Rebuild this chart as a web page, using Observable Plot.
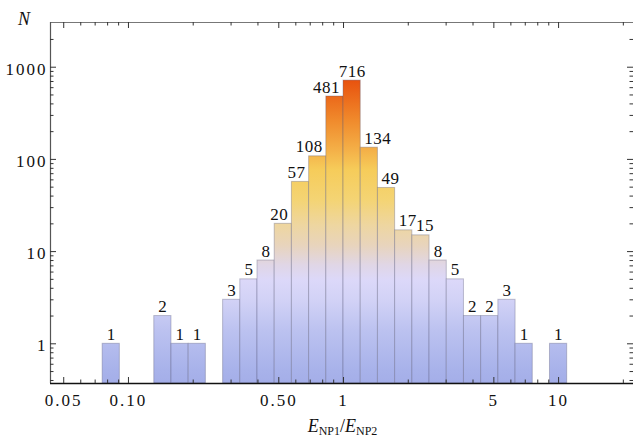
<!DOCTYPE html>
<html><head><meta charset="utf-8">
<script src="https://cdn.jsdelivr.net/npm/d3@7"></script>
<script src="https://cdn.jsdelivr.net/npm/@observablehq/plot@0.6"></script>
<style>
html,body{margin:0;padding:0;background:#fff}
#chart svg{display:block}
#chart svg text{font-family:"Liberation Serif","Times New Roman",serif !important}
</style>
</head><body><div id="chart"></div>
<script>
// ---- data ----
const logBinWidth = 0.08; // bin width in log10 units
const binIndex = [-14, -11, -10, -9, -7, -6, -5, -4, -3, -2, -1, 0, 1, 2, 3, 4, 5, 6, 7, 8, 9, 10, 12];
const counts   = [1, 2, 1, 1, 3, 5, 8, 20, 57, 108, 481, 716, 134, 49, 17, 15, 8, 5, 2, 2, 3, 1, 1];
const xTickValues = [0.05, 0.1, 0.5, 1, 5, 10];
const xTickLabels = ["0.05", "0.10", "0.50", "1", "5", "10"];
const xMinorTicks = [0.06, 0.07, 0.08, 0.09, 0.2, 0.3, 0.4, 0.6, 0.7, 0.8, 0.9, 2, 3, 4, 6, 7, 8, 9, 20];
const yTickValues = [1, 10, 100, 1000];
const yTickLabels = ["1", "10", "100", "1000"];
const yMinorTicks = [0.4, 0.5, 0.6, 0.7, 0.8, 0.9, 2, 3, 4, 5, 6, 7, 8, 9, 20, 30, 40, 50, 60, 70, 80, 90,
                     200, 300, 400, 500, 600, 700, 800, 900, 2000];
const xDomain = [0.0434, 22.3];
const yDomain = [0.371, 3054];
// colour gradient stops (count level -> colour)
const gradLevels = [0.371, 0.513, 1.39, 2.95, 4.86, 7.07, 11.6, 19.2, 35.8, 76, 125, 263, 716];
const gradColors = ["#a4aee8", "#a8b2ea", "#bcc2f0", "#d2d2f6", "#dcd8f9", "#e0d6e6", "#e8d4bc", "#eed6a0",
                    "#f4d474", "#f6cc5a", "#f4b048", "#f08a2c", "#e8520e"];

// ---- layout ----
const W = 633, H = 438, mL = 50, mR = 0, mT = 22, mB = 55;
const FONT = "Liberation Serif";

const bins = binIndex.map((k, i) => ({
  k, n: counts[i],
  x1: Math.pow(10, k * logBinWidth),
  x2: Math.pow(10, (k + 1) * logBinWidth),
  xc: Math.pow(10, (k + 0.5) * logBinWidth)
}));

// label nudging away from a taller neighbouring bar
const pxPerDecade = (W - mL - mR) / Math.log10(xDomain[1] / xDomain[0]);
const barPx = logBinWidth * pxPerDecade;
bins.forEach((b, i) => {
  const digits = String(b.n).length;
  const tw = digits * 8.5 + (digits - 1) * 0.5;
  const need = Math.max(0, tw / 2 - barPx / 2 + 4);
  const prev = bins[i - 1], next = bins[i + 1];
  const leftTaller = prev && prev.k === b.k - 1 && prev.n > b.n;
  const rightTaller = next && next.k === b.k + 1 && next.n > b.n;
  let dx = 0;
  if (rightTaller && !leftTaller) dx = -need;
  else if (leftTaller && !rightTaller) dx = need;
  b.dx = Math.round(dx * 2) / 2;
});
const labelGroups = d3.groups(bins, d => d.dx);

const tickStroke = "#333";
const marks = [
  Plot.rectY(bins, {x1: "x1", x2: "x2", y1: yDomain[0], y2: "n", fill: "url(#barGrad)",
    stroke: "#5a5a78", strokeOpacity: 0.35, strokeWidth: 1}),
  ...labelGroups.map(([dx, g]) => Plot.text(g, {x: "xc", y: "n", text: d => String(d.n),
    lineAnchor: "bottom", dy: -4, dx, fontSize: 17, fontFamily: FONT, fill: "#111"})),
  // frame
  Plot.ruleY([yDomain[1]], {stroke: "#777", strokeWidth: 1}),
  Plot.ruleX([xDomain[0]], {stroke: "#555", strokeWidth: 1.2}),
  Plot.ruleY([yDomain[0]], {stroke: "#111", strokeWidth: 1.3}),
  // x ticks bottom and top (inward)
  Plot.ruleX(xTickValues, {x: d => d, y1: yDomain[0], y2: yDomain[0], insetTop: -6, stroke: tickStroke}),
  Plot.ruleX(xMinorTicks, {x: d => d, y1: yDomain[0], y2: yDomain[0], insetTop: -3.5, stroke: tickStroke}),
  Plot.ruleX(xTickValues, {x: d => d, y1: yDomain[1], y2: yDomain[1], insetBottom: -6, stroke: tickStroke}),
  Plot.ruleX(xMinorTicks, {x: d => d, y1: yDomain[1], y2: yDomain[1], insetBottom: -3.5, stroke: tickStroke}),
  // y ticks left and right (inward)
  Plot.ruleY(yTickValues, {y: d => d, x1: xDomain[0], x2: xDomain[0], insetRight: -6, stroke: tickStroke}),
  Plot.ruleY(yMinorTicks, {y: d => d, x1: xDomain[0], x2: xDomain[0], insetRight: -3.5, stroke: tickStroke}),
  Plot.ruleY(yTickValues, {y: d => d, x1: xDomain[1], x2: xDomain[1], insetLeft: -6, stroke: tickStroke}),
  Plot.ruleY(yMinorTicks, {y: d => d, x1: xDomain[1], x2: xDomain[1], insetLeft: -3.5, stroke: tickStroke}),
  // tick labels
  Plot.text(xTickValues, {x: d => d, y: yDomain[0], text: (d, i) => xTickLabels[i], lineAnchor: "top",
    dy: 10, fontSize: 17, fontFamily: FONT, fill: "#111"}),
  Plot.text(yTickValues, {y: d => d, x: xDomain[0], text: (d, i) => yTickLabels[i], textAnchor: "end",
    dx: -3, dy: 2, fontSize: 17, fontFamily: FONT, fill: "#111"})
];

const plot = Plot.plot({
  width: W, height: H,
  marginLeft: mL, marginRight: mR, marginTop: mT, marginBottom: mB,
  style: {fontFamily: FONT, fontSize: "17px", background: "#fff", color: "#111", overflow: "visible"},
  x: {type: "log", domain: xDomain, axis: null},
  y: {type: "log", domain: yDomain, axis: null},
  marks
});

// gradient definition (in plot pixel space via the y scale)
const ys = plot.scale("y");
const yB = ys.apply(gradLevels[0]);
const yT = ys.apply(gradLevels[gradLevels.length - 1]);
const NS = "http://www.w3.org/2000/svg";
const defs = document.createElementNS(NS, "defs");
const lg = document.createElementNS(NS, "linearGradient");
lg.setAttribute("id", "barGrad");
lg.setAttribute("gradientUnits", "userSpaceOnUse");
lg.setAttribute("x1", 0); lg.setAttribute("x2", 0);
lg.setAttribute("y1", yB); lg.setAttribute("y2", yT);
gradLevels.forEach((lv, i) => {
  const s = document.createElementNS(NS, "stop");
  s.setAttribute("offset", (ys.apply(lv) - yB) / (yT - yB));
  s.setAttribute("stop-color", gradColors[i]);
  lg.appendChild(s);
});
defs.appendChild(lg);
plot.insertBefore(defs, plot.firstChild);

// letter spacing: tick labels wide, bar labels slight
const textGroups = plot.querySelectorAll('g[aria-label="text"]');
textGroups.forEach((g, gi) => {
  const isTick = gi >= textGroups.length - 2;
  g.querySelectorAll("text").forEach(t => t.setAttribute("letter-spacing", isTick ? "2" : "0.5"));
});

// axis titles
const xt = document.createElementNS(NS, "text");
xt.setAttribute("x", (mL + W - mR) / 2 + 1);
xt.setAttribute("y", 432);
xt.setAttribute("text-anchor", "middle");
xt.setAttribute("font-size", 18);
xt.setAttribute("fill", "#111");
xt.innerHTML = '<tspan font-style="italic">E</tspan><tspan font-size="12" dy="2.5">NP1</tspan>' +
  '<tspan dy="-2.5">/</tspan><tspan font-style="italic">E</tspan><tspan font-size="12" dy="2.5">NP2</tspan>';
plot.appendChild(xt);
const yt = document.createElementNS(NS, "text");
yt.setAttribute("x", 24);
yt.setAttribute("y", 25);
yt.setAttribute("text-anchor", "middle");
yt.setAttribute("font-size", 18);
yt.setAttribute("font-style", "italic");
yt.setAttribute("fill", "#111");
yt.textContent = "N";
plot.appendChild(yt);

document.getElementById("chart").appendChild(plot);
</script>
</body></html>
